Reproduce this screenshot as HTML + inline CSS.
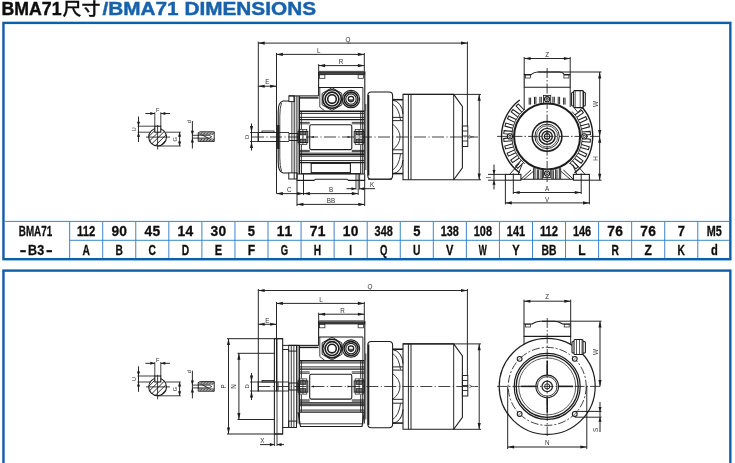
<!DOCTYPE html>
<html lang="zh"><head><meta charset="utf-8"><title>BMA71尺寸/BMA71 DIMENSIONS</title>
<style>html,body{margin:0;padding:0;background:#fff;}body{width:735px;height:463px;overflow:hidden;}svg{display:block;font-family:"Liberation Sans","Noto Sans CJK SC",sans-serif;}</style></head><body>
<svg width="735" height="463" viewBox="0 0 735 463">
<rect x="0" y="0" width="735" height="463" fill="#fff"/>
<defs><filter id="soft" x="-2%" y="-2%" width="104%" height="104%"><feGaussianBlur stdDeviation="0.35"/></filter><filter id="soft2" x="-2%" y="-20%" width="104%" height="140%"><feGaussianBlur stdDeviation="0.22"/></filter></defs>
<g filter="url(#soft2)">
<g font-weight="bold" stroke-width="0.45">
<text x="1.5" y="15.4" font-size="18.8" fill="#111" stroke="#111" textLength="60" lengthAdjust="spacingAndGlyphs">BMA71</text>
<text x="62.5" y="15" font-size="17.5" font-weight="500" fill="#111" stroke="#111" stroke-width="0.3" textLength="38" lengthAdjust="spacingAndGlyphs">尺寸</text>
<text x="102.5" y="15.4" font-size="18.8" fill="#1662ad" stroke="#1662ad" textLength="213.5" lengthAdjust="spacingAndGlyphs">/BMA71 DIMENSIONS</text>
</g>
<rect x="3.45" y="22.9" width="726.9" height="236.3" fill="none" stroke="#0f5ea8" stroke-width="2.4"/>
<rect x="3.45" y="270.6" width="726.9" height="200" fill="none" stroke="#0f5ea8" stroke-width="2.4"/>
<line x1="4.7" y1="221.4" x2="729" y2="221.4" stroke="#3d85c8" stroke-width="1"/>
<line x1="69.7" y1="240.3" x2="729" y2="240.3" stroke="#3d85c8" stroke-width="1"/>
<line x1="69.65" y1="221.4" x2="69.65" y2="258" stroke="#3d85c8" stroke-width="1"/>
<line x1="102.71" y1="221.4" x2="102.71" y2="258" stroke="#3d85c8" stroke-width="1"/>
<line x1="135.77" y1="221.4" x2="135.77" y2="258" stroke="#3d85c8" stroke-width="1"/>
<line x1="168.83" y1="221.4" x2="168.83" y2="258" stroke="#3d85c8" stroke-width="1"/>
<line x1="201.89" y1="221.4" x2="201.89" y2="258" stroke="#3d85c8" stroke-width="1"/>
<line x1="234.95" y1="221.4" x2="234.95" y2="258" stroke="#3d85c8" stroke-width="1"/>
<line x1="268.01" y1="221.4" x2="268.01" y2="258" stroke="#3d85c8" stroke-width="1"/>
<line x1="301.07" y1="221.4" x2="301.07" y2="258" stroke="#3d85c8" stroke-width="1"/>
<line x1="334.13" y1="221.4" x2="334.13" y2="258" stroke="#3d85c8" stroke-width="1"/>
<line x1="367.19" y1="221.4" x2="367.19" y2="258" stroke="#3d85c8" stroke-width="1"/>
<line x1="400.25" y1="221.4" x2="400.25" y2="258" stroke="#3d85c8" stroke-width="1"/>
<line x1="433.31" y1="221.4" x2="433.31" y2="258" stroke="#3d85c8" stroke-width="1"/>
<line x1="466.37" y1="221.4" x2="466.37" y2="258" stroke="#3d85c8" stroke-width="1"/>
<line x1="499.43" y1="221.4" x2="499.43" y2="258" stroke="#3d85c8" stroke-width="1"/>
<line x1="532.49" y1="221.4" x2="532.49" y2="258" stroke="#3d85c8" stroke-width="1"/>
<line x1="565.55" y1="221.4" x2="565.55" y2="258" stroke="#3d85c8" stroke-width="1"/>
<line x1="598.61" y1="221.4" x2="598.61" y2="258" stroke="#3d85c8" stroke-width="1"/>
<line x1="631.67" y1="221.4" x2="631.67" y2="258" stroke="#3d85c8" stroke-width="1"/>
<line x1="664.73" y1="221.4" x2="664.73" y2="258" stroke="#3d85c8" stroke-width="1"/>
<line x1="697.79" y1="221.4" x2="697.79" y2="258" stroke="#3d85c8" stroke-width="1"/>
<g font-weight="bold" font-size="13.8" fill="#111" stroke="#111" stroke-width="0.3" text-anchor="middle">
<text x="86.15" y="236.4" textLength="18.2" lengthAdjust="spacingAndGlyphs">112</text>
<text x="86.15" y="255" textLength="7.4" lengthAdjust="spacingAndGlyphs">A</text>
<text x="119.21" y="236.4" textLength="15.6" lengthAdjust="spacing">90</text>
<text x="119.21" y="255" textLength="7.4" lengthAdjust="spacingAndGlyphs">B</text>
<text x="152.27" y="236.4" textLength="15.6" lengthAdjust="spacing">45</text>
<text x="152.27" y="255" textLength="7.4" lengthAdjust="spacingAndGlyphs">C</text>
<text x="185.33" y="236.4" textLength="15.6" lengthAdjust="spacing">14</text>
<text x="185.33" y="255" textLength="7.4" lengthAdjust="spacingAndGlyphs">D</text>
<text x="218.39" y="236.4" textLength="15.6" lengthAdjust="spacing">30</text>
<text x="218.39" y="255" textLength="7.4" lengthAdjust="spacingAndGlyphs">E</text>
<text x="251.45" y="236.4" textLength="7.2" lengthAdjust="spacingAndGlyphs">5</text>
<text x="251.45" y="255" textLength="7.4" lengthAdjust="spacingAndGlyphs">F</text>
<text x="284.51" y="236.4" textLength="15.6" lengthAdjust="spacing">11</text>
<text x="284.51" y="255" textLength="7.4" lengthAdjust="spacingAndGlyphs">G</text>
<text x="317.57" y="236.4" textLength="15.6" lengthAdjust="spacing">71</text>
<text x="317.57" y="255" textLength="7.4" lengthAdjust="spacingAndGlyphs">H</text>
<text x="350.63" y="236.4" textLength="15.6" lengthAdjust="spacing">10</text>
<text x="350.63" y="255" textLength="2.8" lengthAdjust="spacingAndGlyphs">I</text>
<text x="383.69" y="236.4" textLength="18.2" lengthAdjust="spacingAndGlyphs">348</text>
<text x="383.69" y="255" textLength="7.4" lengthAdjust="spacingAndGlyphs">Q</text>
<text x="416.75" y="236.4" textLength="7.2" lengthAdjust="spacingAndGlyphs">5</text>
<text x="416.75" y="255" textLength="7.4" lengthAdjust="spacingAndGlyphs">U</text>
<text x="449.81" y="236.4" textLength="18.2" lengthAdjust="spacingAndGlyphs">138</text>
<text x="449.81" y="255" textLength="7.4" lengthAdjust="spacingAndGlyphs">V</text>
<text x="482.87" y="236.4" textLength="18.2" lengthAdjust="spacingAndGlyphs">108</text>
<text x="482.87" y="255" textLength="8" lengthAdjust="spacingAndGlyphs">W</text>
<text x="515.93" y="236.4" textLength="18.2" lengthAdjust="spacingAndGlyphs">141</text>
<text x="515.93" y="255" textLength="7.4" lengthAdjust="spacingAndGlyphs">Y</text>
<text x="548.99" y="236.4" textLength="18.2" lengthAdjust="spacingAndGlyphs">112</text>
<text x="548.99" y="255" textLength="15" lengthAdjust="spacingAndGlyphs">BB</text>
<text x="582.05" y="236.4" textLength="18.2" lengthAdjust="spacingAndGlyphs">146</text>
<text x="582.05" y="255" textLength="7.4" lengthAdjust="spacingAndGlyphs">L</text>
<text x="615.11" y="236.4" textLength="15.6" lengthAdjust="spacing">76</text>
<text x="615.11" y="255" textLength="7.4" lengthAdjust="spacingAndGlyphs">R</text>
<text x="648.17" y="236.4" textLength="15.6" lengthAdjust="spacing">76</text>
<text x="648.17" y="255" textLength="7.4" lengthAdjust="spacingAndGlyphs">Z</text>
<text x="681.23" y="236.4" textLength="7.2" lengthAdjust="spacingAndGlyphs">7</text>
<text x="681.23" y="255" textLength="7.4" lengthAdjust="spacingAndGlyphs">K</text>
<text x="714.29" y="236.4" textLength="15" lengthAdjust="spacingAndGlyphs">M5</text>
<text x="714.29" y="255" textLength="6.8" lengthAdjust="spacingAndGlyphs">d</text>
<text x="35.5" y="236.4" textLength="33.5" lengthAdjust="spacingAndGlyphs">BMA71</text>
<text x="23.1" y="254.6" textLength="6.6" lengthAdjust="spacingAndGlyphs">-</text>
<text x="36.1" y="255" textLength="16" lengthAdjust="spacingAndGlyphs">B3</text>
<text x="49.3" y="254.6" textLength="6.6" lengthAdjust="spacingAndGlyphs">-</text>
</g>
</g>
<g id="draw-top" filter="url(#soft)">
<circle cx="157.6" cy="137.1" r="8.9" fill="none" stroke="#1c1c1c" stroke-width="1.08"/>
<clipPath id="kc137"><circle cx="157.6" cy="137.1" r="8.9"/></clipPath>
<g clip-path="url(#kc137)">
<line x1="138.2" y1="147.1" x2="158.2" y2="127.1" stroke="#1c1c1c" stroke-width="0.9"/>
<line x1="143.4" y1="147.1" x2="163.4" y2="127.1" stroke="#1c1c1c" stroke-width="0.9"/>
<line x1="148.6" y1="147.1" x2="168.6" y2="127.1" stroke="#1c1c1c" stroke-width="0.9"/>
<line x1="153.8" y1="147.1" x2="173.8" y2="127.1" stroke="#1c1c1c" stroke-width="0.9"/>
<line x1="159" y1="147.1" x2="179" y2="127.1" stroke="#1c1c1c" stroke-width="0.9"/>
</g>
<rect x="154.8" y="126.2" width="6" height="6" fill="#fff" stroke="#1c1c1c" stroke-width="1.08"/>
<line x1="154.8" y1="112.3" x2="154.8" y2="126.2" stroke="#1c1c1c" stroke-width="0.84"/>
<line x1="160.8" y1="112.3" x2="160.8" y2="126.2" stroke="#1c1c1c" stroke-width="0.84"/>
<line x1="145.4" y1="113.5" x2="154.8" y2="113.5" stroke="#1c1c1c" stroke-width="0.96"/>
<line x1="160.8" y1="113.5" x2="170" y2="113.5" stroke="#1c1c1c" stroke-width="0.96"/>
<polygon points="154.8,113.5 150.3,111.95 150.3,115.05" fill="#1c1c1c"/>
<polygon points="160.8,113.5 165.3,111.95 165.3,115.05" fill="#1c1c1c"/>
<text x="157.7" y="111.8" font-size="5.6" text-anchor="middle" fill="#333" font-weight="normal">F</text>
<line x1="137.5" y1="126.2" x2="155" y2="126.2" stroke="#1c1c1c" stroke-width="0.84"/>
<line x1="137.5" y1="132.2" x2="150" y2="132.2" stroke="#1c1c1c" stroke-width="0.84"/>
<line x1="138.5" y1="116.5" x2="138.5" y2="142" stroke="#1c1c1c" stroke-width="0.96"/>
<polygon points="138.5,126.2 136.95,121.7 140.05,121.7" fill="#1c1c1c"/>
<polygon points="138.5,132.2 136.95,136.7 140.05,136.7" fill="#1c1c1c"/>
<text x="136.2" y="129.3" font-size="5.4" text-anchor="middle" fill="#333" font-weight="normal" transform="rotate(-90 136.2 129.3)">U</text>
<line x1="165.5" y1="132.2" x2="180.8" y2="132.2" stroke="#1c1c1c" stroke-width="0.84"/>
<line x1="157.6" y1="146" x2="180.8" y2="146" stroke="#1c1c1c" stroke-width="0.84"/>
<line x1="179.6" y1="132.2" x2="179.6" y2="146" stroke="#1c1c1c" stroke-width="0.96"/>
<polygon points="179.6,132.2 178.05,136.7 181.15,136.7" fill="#1c1c1c"/>
<polygon points="179.6,146 178.05,141.5 181.15,141.5" fill="#1c1c1c"/>
<text x="176.6" y="139.2" font-size="5.6" text-anchor="middle" fill="#333" font-weight="normal" transform="rotate(-90 176.6 139.2)">G</text>
<line x1="146" y1="137.1" x2="170" y2="137.1" stroke="#1c1c1c" stroke-width="0.84"/>
<line x1="157.6" y1="125" x2="157.6" y2="149.5" stroke="#1c1c1c" stroke-width="0.84"/>
<line x1="192.4" y1="121" x2="192.4" y2="148.5" stroke="#1c1c1c" stroke-width="0.96"/>
<polygon points="192.4,135.3 190.85,130.8 193.95,130.8" fill="#1c1c1c"/>
<polygon points="192.4,138.1 190.85,142.6 193.95,142.6" fill="#1c1c1c"/>
<text x="190.6" y="121.8" font-size="5.6" text-anchor="middle" fill="#333" font-weight="normal" transform="rotate(-90 190.6 121.8)">d</text>
<line x1="192.4" y1="135.3" x2="199" y2="135.3" stroke="#1c1c1c" stroke-width="0.84"/>
<line x1="192.4" y1="138.1" x2="199" y2="138.1" stroke="#1c1c1c" stroke-width="0.84"/>
<path d="M198.2,132.8 L200.2,131.8 L214.2,131.8 L214.2,141.4 Z M214.2,141.4 L198.2,141.4 L198.2,132.8" fill="none" stroke="#1c1c1c" stroke-width="0.96"/>
<rect x="199.2" y="132.4" width="14.5" height="2.2" fill="#aaa" stroke="#777" stroke-width="0.5"/>
<rect x="199.2" y="138.8" width="14.5" height="2.1" fill="#aaa" stroke="#777" stroke-width="0.5"/>
<line x1="200.2" y1="134.6" x2="202.2" y2="132.4" stroke="#1c1c1c" stroke-width="0.72"/>
<line x1="200.2" y1="140.9" x2="202.2" y2="138.8" stroke="#1c1c1c" stroke-width="0.72"/>
<line x1="203.2" y1="134.6" x2="205.2" y2="132.4" stroke="#1c1c1c" stroke-width="0.72"/>
<line x1="203.2" y1="140.9" x2="205.2" y2="138.8" stroke="#1c1c1c" stroke-width="0.72"/>
<line x1="206.2" y1="134.6" x2="208.2" y2="132.4" stroke="#1c1c1c" stroke-width="0.72"/>
<line x1="206.2" y1="140.9" x2="208.2" y2="138.8" stroke="#1c1c1c" stroke-width="0.72"/>
<line x1="209.2" y1="134.6" x2="211.2" y2="132.4" stroke="#1c1c1c" stroke-width="0.72"/>
<line x1="209.2" y1="140.9" x2="211.2" y2="138.8" stroke="#1c1c1c" stroke-width="0.72"/>
<line x1="212.2" y1="134.6" x2="214.2" y2="132.4" stroke="#1c1c1c" stroke-width="0.72"/>
<line x1="212.2" y1="140.9" x2="214.2" y2="138.8" stroke="#1c1c1c" stroke-width="0.72"/>
<path d="M198.2,135.3 L209.2,135.3 L211.7,136.7 L209.2,138.1 L198.2,138.1" fill="none" stroke="#1c1c1c" stroke-width="0.84"/>
<line x1="252" y1="137" x2="478" y2="137" stroke="#1c1c1c" stroke-width="0.82" stroke-dasharray="12 2.5 1 2.5"/>
<rect x="258.2" y="132.5" width="19.8" height="9" fill="none" stroke="#1c1c1c" stroke-width="0.96"/>
<rect x="262" y="131" width="12" height="1.5" fill="none" stroke="#1c1c1c" stroke-width="0.84"/>
<line x1="288.9" y1="95.9" x2="318.6" y2="95.9" stroke="#1c1c1c" stroke-width="1.08"/>
<line x1="299.5" y1="97.9" x2="318.6" y2="97.9" stroke="#1c1c1c" stroke-width="1.44"/>
<line x1="299.5" y1="95.9" x2="299.5" y2="174" stroke="#1c1c1c" stroke-width="1.08"/>
<line x1="364.3" y1="110.8" x2="364.3" y2="174" stroke="#1c1c1c" stroke-width="1.08"/>
<line x1="298" y1="95.9" x2="298" y2="174" stroke="#1c1c1c" stroke-width="0.84"/>
<line x1="362.6" y1="111" x2="362.6" y2="174" stroke="#1c1c1c" stroke-width="0.84"/>
<line x1="299.5" y1="111.2" x2="364.3" y2="111.2" stroke="#1c1c1c" stroke-width="1.56"/>
<line x1="299.5" y1="113.4" x2="364.3" y2="113.4" stroke="#1c1c1c" stroke-width="0.96"/>
<line x1="299.5" y1="117.4" x2="364.3" y2="117.4" stroke="#1c1c1c" stroke-width="0.96"/>
<line x1="299.5" y1="153.2" x2="364.3" y2="153.2" stroke="#1c1c1c" stroke-width="0.96"/>
<line x1="299.5" y1="156.2" x2="364.3" y2="156.2" stroke="#1c1c1c" stroke-width="0.96"/>
<line x1="299.5" y1="160.6" x2="364.3" y2="160.6" stroke="#1c1c1c" stroke-width="0.96"/>
<line x1="299.5" y1="119.6" x2="364.3" y2="119.6" stroke="#1c1c1c" stroke-width="1.32"/>
<line x1="299.5" y1="154.6" x2="364.3" y2="154.6" stroke="#1c1c1c" stroke-width="1.32"/>
<line x1="299.5" y1="122.4" x2="309.7" y2="122.4" stroke="#1c1c1c" stroke-width="0.84"/>
<line x1="351.8" y1="122.4" x2="364.3" y2="122.4" stroke="#1c1c1c" stroke-width="0.84"/>
<line x1="299.5" y1="123.8" x2="309.7" y2="123.8" stroke="#1c1c1c" stroke-width="0.84"/>
<line x1="351.8" y1="123.8" x2="364.3" y2="123.8" stroke="#1c1c1c" stroke-width="0.84"/>
<line x1="299.5" y1="150.4" x2="309.7" y2="150.4" stroke="#1c1c1c" stroke-width="0.84"/>
<line x1="351.8" y1="150.4" x2="364.3" y2="150.4" stroke="#1c1c1c" stroke-width="0.84"/>
<line x1="299.5" y1="151.6" x2="309.7" y2="151.6" stroke="#1c1c1c" stroke-width="0.84"/>
<line x1="351.8" y1="151.6" x2="364.3" y2="151.6" stroke="#1c1c1c" stroke-width="0.84"/>
<line x1="301.4" y1="111.2" x2="301.4" y2="129" stroke="#1c1c1c" stroke-width="0.84"/>
<line x1="301.4" y1="145" x2="301.4" y2="162.6" stroke="#1c1c1c" stroke-width="0.84"/>
<line x1="360.7" y1="111.2" x2="360.7" y2="129" stroke="#1c1c1c" stroke-width="0.84"/>
<line x1="360.7" y1="145" x2="360.7" y2="162.6" stroke="#1c1c1c" stroke-width="0.84"/>
<line x1="299.5" y1="162.6" x2="364.3" y2="162.6" stroke="#1c1c1c" stroke-width="1.44"/>
<rect x="309.7" y="124.7" width="42.1" height="24.9" fill="none" stroke="#1c1c1c" stroke-width="1.08" rx="1.5"/>
<polygon points="310.5,137 314,136.1 314,137.9" fill="#1c1c1c"/>
<polygon points="351,137 347.5,136.1 347.5,137.9" fill="#1c1c1c"/>
<rect x="298" y="131.4" width="9.8" height="11.2" fill="none" stroke="#1c1c1c" stroke-width="0.96"/>
<rect x="300" y="131.4" width="5.8" height="3.4" fill="#777" stroke="#1c1c1c" stroke-width="0.84"/>
<rect x="300" y="139.2" width="5.8" height="3.4" fill="#777" stroke="#1c1c1c" stroke-width="0.84"/>
<line x1="302.9" y1="129.5" x2="302.9" y2="144.5" stroke="#1c1c1c" stroke-width="0.72"/>
<rect x="299" y="129.4" width="7.8" height="15.2" fill="none" stroke="#1c1c1c" stroke-width="0.72"/>
<rect x="354.2" y="131.4" width="10.1" height="11.2" fill="none" stroke="#1c1c1c" stroke-width="0.96"/>
<rect x="356.2" y="131.4" width="6.1" height="3.4" fill="#777" stroke="#1c1c1c" stroke-width="0.84"/>
<rect x="356.2" y="139.2" width="6.1" height="3.4" fill="#777" stroke="#1c1c1c" stroke-width="0.84"/>
<line x1="359.1" y1="129.5" x2="359.1" y2="144.5" stroke="#1c1c1c" stroke-width="0.72"/>
<rect x="355.2" y="129.4" width="8.1" height="15.2" fill="none" stroke="#1c1c1c" stroke-width="0.72"/>
<rect x="289" y="133.5" width="9" height="7" fill="none" stroke="#1c1c1c" stroke-width="0.96"/>
<line x1="278" y1="132.5" x2="289" y2="132.5" stroke="#1c1c1c" stroke-width="0.84"/>
<line x1="278" y1="141.5" x2="289" y2="141.5" stroke="#1c1c1c" stroke-width="0.84"/>
<line x1="318.6" y1="71.4" x2="364.8" y2="71.4" stroke="#1c1c1c" stroke-width="0.84"/>
<rect x="318.6" y="72.4" width="46.2" height="2.1" fill="#444" stroke="#1c1c1c" stroke-width="0.72"/>
<line x1="318.6" y1="71.2" x2="318.6" y2="95.9" stroke="#1c1c1c" stroke-width="1.08"/>
<line x1="364.8" y1="71.2" x2="364.8" y2="111" stroke="#1c1c1c" stroke-width="1.08"/>
<line x1="362.9" y1="87.5" x2="362.9" y2="111" stroke="#1c1c1c" stroke-width="0.84"/>
<rect x="319.6" y="74.8" width="5.3" height="3.5" fill="none" stroke="#1c1c1c" stroke-width="0.72"/>
<rect x="358.1" y="74.8" width="5.3" height="3.5" fill="none" stroke="#1c1c1c" stroke-width="0.72"/>
<line x1="318.6" y1="87.5" x2="362.9" y2="87.5" stroke="#1c1c1c" stroke-width="1.08"/>
<line x1="319.8" y1="87.5" x2="319.8" y2="107" stroke="#1c1c1c" stroke-width="0.84"/>
<line x1="319.8" y1="107" x2="324.6" y2="110.8" stroke="#1c1c1c" stroke-width="0.84"/>
<polygon points="332,87.7 322.13,93.4 322.13,104.8 332,110.5 341.87,104.8 341.87,93.4" fill="#fff" stroke="#1c1c1c" stroke-width="0.9"/>
<circle cx="332" cy="99.1" r="9.3" fill="none" stroke="#1c1c1c" stroke-width="1.56"/>
<circle cx="332" cy="99.1" r="6.9" fill="none" stroke="#1c1c1c" stroke-width="1.68"/>
<circle cx="332" cy="99.1" r="4.3" fill="none" stroke="#1c1c1c" stroke-width="1.56"/>
<circle cx="351" cy="99.1" r="8.7" fill="#fff" stroke="#1c1c1c" stroke-width="1.08"/>
<circle cx="351" cy="99.1" r="7" fill="none" stroke="#1c1c1c" stroke-width="1.56"/>
<circle cx="351" cy="99.1" r="5.2" fill="none" stroke="#1c1c1c" stroke-width="1.08"/>
<circle cx="351" cy="99.1" r="2.7" fill="none" stroke="#1c1c1c" stroke-width="1.2"/>
<path d="M348.4,99.7 A2.7,2.7 0 0 0 353.6,99.7 Z" fill="#555" stroke="#1c1c1c" stroke-width="0.48"/>
<rect x="367.8" y="92" width="24.8" height="87.2" fill="none" stroke="#1c1c1c" stroke-width="1.08" rx="3.5"/>
<line x1="368.6" y1="95" x2="368.6" y2="175.5" stroke="#1c1c1c" stroke-width="1.44"/>
<line x1="365.8" y1="104" x2="365.8" y2="170" stroke="#1c1c1c" stroke-width="0.84"/>
<path d="M392.6,100 Q402,102 403,114" fill="none" stroke="#1c1c1c" stroke-width="0.96"/>
<path d="M392.6,174 Q402,172 403,160" fill="none" stroke="#1c1c1c" stroke-width="0.96"/>
<path d="M392.6,104 Q399,108 400.5,120" fill="none" stroke="#1c1c1c" stroke-width="0.84"/>
<path d="M392.6,170 Q399,166 400.5,154" fill="none" stroke="#1c1c1c" stroke-width="0.84"/>
<line x1="392.6" y1="117.4" x2="403" y2="117.4" stroke="#1c1c1c" stroke-width="0.96"/>
<line x1="392.6" y1="120.6" x2="403" y2="120.6" stroke="#1c1c1c" stroke-width="0.96"/>
<line x1="392.6" y1="149.8" x2="403" y2="149.8" stroke="#1c1c1c" stroke-width="0.96"/>
<line x1="392.6" y1="153.7" x2="403" y2="153.7" stroke="#1c1c1c" stroke-width="0.96"/>
<line x1="392.6" y1="99.7" x2="403" y2="99.7" stroke="#1c1c1c" stroke-width="1.56"/>
<line x1="392.6" y1="173.6" x2="403" y2="173.6" stroke="#1c1c1c" stroke-width="1.56"/>
<path d="M392.6,124 Q400,130 400,137" fill="none" stroke="#1c1c1c" stroke-width="0.84"/>
<path d="M392.6,150 Q400,144 400,137" fill="none" stroke="#1c1c1c" stroke-width="0.84"/>
<path d="M403,94.4 L453.7,94.4 L462.4,106.4 L462.4,167.8 L453.7,179.8 L403,179.8 Z" fill="none" stroke="#1c1c1c" stroke-width="1.08"/>
<line x1="408.4" y1="94.4" x2="408.4" y2="179.8" stroke="#1c1c1c" stroke-width="0.96"/>
<line x1="411" y1="94.4" x2="411" y2="179.8" stroke="#1c1c1c" stroke-width="0.96"/>
<line x1="453.7" y1="94.4" x2="453.7" y2="179.8" stroke="#1c1c1c" stroke-width="0.96"/>
<rect x="462.4" y="126" width="5.4" height="20.5" fill="none" stroke="#1c1c1c" stroke-width="0.96"/>
<line x1="462.4" y1="131" x2="467.8" y2="131" stroke="#1c1c1c" stroke-width="0.84"/>
<line x1="462.4" y1="136" x2="467.8" y2="136" stroke="#1c1c1c" stroke-width="0.84"/>
<line x1="462.4" y1="141" x2="467.8" y2="141" stroke="#1c1c1c" stroke-width="0.84"/>
<line x1="403" y1="94.4" x2="481" y2="94.4" stroke="#1c1c1c" stroke-width="0.96"/>
<line x1="453.7" y1="179.8" x2="481" y2="179.8" stroke="#1c1c1c" stroke-width="0.96"/>
<line x1="479.2" y1="94.4" x2="479.2" y2="179.8" stroke="#1c1c1c" stroke-width="0.96"/>
<polygon points="479.2,94.4 477.65,100.8 480.75,100.8" fill="#1c1c1c"/>
<polygon points="479.2,179.8 477.65,173.4 480.75,173.4" fill="#1c1c1c"/>
<text x="474.4" y="137" font-size="6.3" text-anchor="middle" fill="#333" font-weight="normal" transform="rotate(-90 474.4 137)">Y</text>
<line x1="258.3" y1="41.6" x2="258.3" y2="142" stroke="#1c1c1c" stroke-width="0.96"/>
<line x1="467.4" y1="41.6" x2="467.4" y2="126" stroke="#1c1c1c" stroke-width="0.96"/>
<line x1="258.3" y1="43.1" x2="467.4" y2="43.1" stroke="#1c1c1c" stroke-width="0.96"/>
<polygon points="258.3,43.1 264.7,41.55 264.7,44.65" fill="#1c1c1c"/>
<polygon points="467.4,43.1 461,41.55 461,44.65" fill="#1c1c1c"/>
<text x="348" y="41.5" font-size="6.3" text-anchor="middle" fill="#333" font-weight="normal">Q</text>
<line x1="276.5" y1="52.9" x2="276.5" y2="193.5" stroke="#1c1c1c" stroke-width="0.96"/>
<line x1="364.3" y1="52.9" x2="364.3" y2="71" stroke="#1c1c1c" stroke-width="0.96"/>
<line x1="276.5" y1="54.4" x2="364.3" y2="54.4" stroke="#1c1c1c" stroke-width="0.96"/>
<polygon points="276.5,54.4 282.9,52.85 282.9,55.95" fill="#1c1c1c"/>
<polygon points="364.3,54.4 357.9,52.85 357.9,55.95" fill="#1c1c1c"/>
<text x="318.8" y="52.8" font-size="6.3" text-anchor="middle" fill="#333" font-weight="normal">L</text>
<line x1="318.7" y1="64.1" x2="318.7" y2="71" stroke="#1c1c1c" stroke-width="0.96"/>
<line x1="318.7" y1="65.6" x2="364.3" y2="65.6" stroke="#1c1c1c" stroke-width="0.96"/>
<polygon points="318.7,65.6 325.1,64.05 325.1,67.15" fill="#1c1c1c"/>
<polygon points="364.3,65.6 357.9,64.05 357.9,67.15" fill="#1c1c1c"/>
<text x="341" y="64" font-size="6.3" text-anchor="middle" fill="#333" font-weight="normal">R</text>
<line x1="258.3" y1="86.2" x2="276.5" y2="86.2" stroke="#1c1c1c" stroke-width="0.96"/>
<polygon points="258.3,86.2 264.7,84.65 264.7,87.75" fill="#1c1c1c"/>
<polygon points="276.5,86.2 270.1,84.65 270.1,87.75" fill="#1c1c1c"/>
<text x="267.4" y="84.4" font-size="6.3" text-anchor="middle" fill="#333" font-weight="normal">E</text>
<line x1="250" y1="132.5" x2="258.3" y2="132.5" stroke="#1c1c1c" stroke-width="0.84"/>
<line x1="250" y1="141.5" x2="258.3" y2="141.5" stroke="#1c1c1c" stroke-width="0.84"/>
<line x1="251.5" y1="123.5" x2="251.5" y2="150.5" stroke="#1c1c1c" stroke-width="0.96"/>
<polygon points="251.5,132.5 249.95,126.1 253.05,126.1" fill="#1c1c1c"/>
<polygon points="251.5,141.5 249.95,147.9 253.05,147.9" fill="#1c1c1c"/>
<text x="249.4" y="137" font-size="5.8" text-anchor="middle" fill="#333" font-weight="normal" transform="rotate(-90 249.4 137)">D</text>
<path d="M289,101 L283,101 Q278.2,102 278.2,112 L278.2,162 Q278.2,172 283,173 L289,173" fill="none" stroke="#1c1c1c" stroke-width="1.08"/>
<path d="M281.5,103 Q279.8,108 279.8,116 L279.8,158 Q279.8,166 281.5,171" fill="none" stroke="#1c1c1c" stroke-width="0.84"/>
<line x1="278.3" y1="125" x2="278.3" y2="149" stroke="#1c1c1c" stroke-width="2.28"/>
<rect x="288.9" y="95.9" width="5.3" height="5.7" fill="none" stroke="#1c1c1c" stroke-width="0.96"/>
<line x1="291.9" y1="101.6" x2="291.9" y2="173" stroke="#1c1c1c" stroke-width="0.84"/>
<line x1="294.2" y1="95.9" x2="294.2" y2="179" stroke="#1c1c1c" stroke-width="0.96"/>
<line x1="296.3" y1="95.9" x2="296.3" y2="174" stroke="#1c1c1c" stroke-width="0.72"/>
<rect x="288.8" y="172.9" width="8.2" height="6.1" fill="none" stroke="#1c1c1c" stroke-width="0.96"/>
<path d="M297,174.3 L297,180.4 L314,180.4 L315.5,179.2 L347,179.2 L348.5,180.4 L364.7,180.4 L364.7,174.3" fill="none" stroke="#1c1c1c" stroke-width="1.08"/>
<line x1="297" y1="174" x2="364.7" y2="174" stroke="#1c1c1c" stroke-width="1.2"/>
<rect x="301.4" y="162.6" width="59.3" height="11" fill="none" stroke="#1c1c1c" stroke-width="0.96"/>
<rect x="311.2" y="163.4" width="39.2" height="9.2" fill="none" stroke="#1c1c1c" stroke-width="1.08"/>
<line x1="356" y1="173.7" x2="356" y2="189.5" stroke="#1c1c1c" stroke-width="0.84"/>
<line x1="358.2" y1="173.7" x2="358.2" y2="189.5" stroke="#1c1c1c" stroke-width="0.84"/>
<line x1="359.6" y1="173.7" x2="359.6" y2="189.5" stroke="#1c1c1c" stroke-width="0.84"/>
<line x1="303.5" y1="174" x2="303.5" y2="195" stroke="#1c1c1c" stroke-width="0.96"/>
<line x1="358.2" y1="189" x2="358.2" y2="195" stroke="#1c1c1c" stroke-width="0.84"/>
<line x1="276.5" y1="193.6" x2="303.5" y2="193.6" stroke="#1c1c1c" stroke-width="0.96"/>
<polygon points="276.5,193.6 282.9,192.05 282.9,195.15" fill="#1c1c1c"/>
<polygon points="303.5,193.6 297.1,192.05 297.1,195.15" fill="#1c1c1c"/>
<line x1="303.5" y1="193.6" x2="358.2" y2="193.6" stroke="#1c1c1c" stroke-width="0.96"/>
<polygon points="303.5,193.6 309.9,192.05 309.9,195.15" fill="#1c1c1c"/>
<polygon points="358.2,193.6 351.8,192.05 351.8,195.15" fill="#1c1c1c"/>
<text x="289.2" y="191.6" font-size="6.3" text-anchor="middle" fill="#333" font-weight="normal">C</text>
<text x="331" y="191.6" font-size="6.3" text-anchor="middle" fill="#333" font-weight="normal">B</text>
<line x1="297" y1="180.4" x2="297" y2="206" stroke="#1c1c1c" stroke-width="0.96"/>
<line x1="364.7" y1="180.4" x2="364.7" y2="206" stroke="#1c1c1c" stroke-width="0.96"/>
<line x1="297" y1="204.4" x2="364.7" y2="204.4" stroke="#1c1c1c" stroke-width="0.96"/>
<polygon points="297,204.4 303.4,202.85 303.4,205.95" fill="#1c1c1c"/>
<polygon points="364.7,204.4 358.3,202.85 358.3,205.95" fill="#1c1c1c"/>
<text x="331" y="202.6" font-size="6.3" text-anchor="middle" fill="#333" font-weight="normal">BB</text>
<line x1="346.5" y1="188.7" x2="356" y2="188.7" stroke="#1c1c1c" stroke-width="0.96"/>
<line x1="359.6" y1="188.7" x2="375" y2="188.7" stroke="#1c1c1c" stroke-width="0.96"/>
<polygon points="356,188.7 351.5,187.15 351.5,190.25" fill="#1c1c1c"/>
<polygon points="359.6,188.7 364.1,187.15 364.1,190.25" fill="#1c1c1c"/>
<text x="372" y="187.4" font-size="6.3" text-anchor="middle" fill="#333" font-weight="normal">K</text>
<line x1="368" y1="179.2" x2="392" y2="179.2" stroke="#1c1c1c" stroke-width="0.96"/>
<line x1="497" y1="136.4" x2="602" y2="136.4" stroke="#1c1c1c" stroke-width="0.84" stroke-dasharray="10 2 1.5 2"/>
<line x1="547.1" y1="68" x2="547.1" y2="182" stroke="#1c1c1c" stroke-width="0.84" stroke-dasharray="10 2 1.5 2"/>
<circle cx="547.1" cy="136.4" r="33" fill="none" stroke="#1c1c1c" stroke-width="2.04"/>
<path d="M519.66,99.98 A45.6,45.6 0 0 0 519.66,172.82" fill="none" stroke="#1c1c1c" stroke-width="1.44"/>
<path d="M524.88,108.97 A35.3,35.3 0 0 0 524.88,163.83" fill="none" stroke="#1c1c1c" stroke-width="0.84"/>
<path d="M523.94,109.76 L518.29,103.95 L516.09,106.03 L521.62,111.97" fill="none" stroke="#1c1c1c" stroke-width="1.02"/>
<path d="M519.59,114.28 L512.99,109.56 L511.2,112.01 L517.7,116.87" fill="none" stroke="#1c1c1c" stroke-width="1.02"/>
<path d="M516.11,119.5 L508.78,116.02 L507.45,118.75 L514.7,122.38" fill="none" stroke="#1c1c1c" stroke-width="1.02"/>
<path d="M513.6,125.26 L505.78,123.13 L504.95,126.05 L512.73,128.34" fill="none" stroke="#1c1c1c" stroke-width="1.02"/>
<path d="M512.16,131.37 L504.08,130.66 L503.79,133.67 L511.85,134.55" fill="none" stroke="#1c1c1c" stroke-width="1.02"/>
<path d="M511.82,137.63 L503.74,138.37 L503.99,141.39 L512.08,140.82" fill="none" stroke="#1c1c1c" stroke-width="1.02"/>
<path d="M512.6,143.86 L504.78,146.02 L505.55,148.94 L513.42,146.96" fill="none" stroke="#1c1c1c" stroke-width="1.02"/>
<path d="M514.46,149.85 L507.15,153.36 L508.43,156.1 L515.82,152.75" fill="none" stroke="#1c1c1c" stroke-width="1.02"/>
<path d="M517.36,155.42 L510.78,160.16 L512.53,162.64 L519.21,158.04" fill="none" stroke="#1c1c1c" stroke-width="1.02"/>
<path d="M521.2,160.38 L515.57,166.22 L517.72,168.35 L523.48,162.63" fill="none" stroke="#1c1c1c" stroke-width="1.02"/>
<path d="M574.54,172.82 A45.6,45.6 0 0 0 578.2,103.05" fill="none" stroke="#1c1c1c" stroke-width="1.44"/>
<path d="M569.32,163.83 A35.3,35.3 0 0 0 572.06,111.44" fill="none" stroke="#1c1c1c" stroke-width="0.84"/>
<path d="M570.26,163.04 L575.91,168.85 L578.11,166.77 L572.58,160.83" fill="none" stroke="#1c1c1c" stroke-width="1.02"/>
<path d="M574.61,158.52 L581.21,163.24 L583,160.79 L576.5,155.93" fill="none" stroke="#1c1c1c" stroke-width="1.02"/>
<path d="M578.09,153.3 L585.42,156.78 L586.75,154.05 L579.5,150.42" fill="none" stroke="#1c1c1c" stroke-width="1.02"/>
<path d="M580.6,147.54 L588.42,149.67 L589.25,146.75 L581.47,144.46" fill="none" stroke="#1c1c1c" stroke-width="1.02"/>
<path d="M582.04,141.43 L590.12,142.14 L590.41,139.13 L582.35,138.25" fill="none" stroke="#1c1c1c" stroke-width="1.02"/>
<path d="M582.38,135.17 L590.46,134.43 L590.21,131.41 L582.12,131.98" fill="none" stroke="#1c1c1c" stroke-width="1.02"/>
<path d="M581.6,128.94 L589.42,126.78 L588.65,123.86 L580.78,125.84" fill="none" stroke="#1c1c1c" stroke-width="1.02"/>
<path d="M579.74,122.95 L587.05,119.44 L585.77,116.7 L578.38,120.05" fill="none" stroke="#1c1c1c" stroke-width="1.02"/>
<path d="M576.84,117.38 L583.42,112.64 L581.67,110.16 L574.99,114.76" fill="none" stroke="#1c1c1c" stroke-width="1.02"/>
<circle cx="584.3" cy="136.4" r="2.6" fill="#fff" stroke="#1c1c1c" stroke-width="1.08"/>
<circle cx="584.3" cy="136.4" r="1.1" fill="none" stroke="#1c1c1c" stroke-width="0.96"/>
<rect x="543.5" y="95.4" width="7.2" height="7.6" fill="#fff" stroke="#1c1c1c" stroke-width="0.84"/>
<circle cx="547.1" cy="99.2" r="2.6" fill="#fff" stroke="#1c1c1c" stroke-width="1.08"/>
<circle cx="547.1" cy="99.2" r="1.1" fill="none" stroke="#1c1c1c" stroke-width="0.96"/>
<circle cx="509.9" cy="136.4" r="2.6" fill="#fff" stroke="#1c1c1c" stroke-width="1.08"/>
<circle cx="509.9" cy="136.4" r="1.1" fill="none" stroke="#1c1c1c" stroke-width="0.96"/>
<rect x="543.5" y="169.8" width="7.2" height="7.6" fill="#fff" stroke="#1c1c1c" stroke-width="0.84"/>
<circle cx="547.1" cy="173.6" r="2.6" fill="#fff" stroke="#1c1c1c" stroke-width="1.08"/>
<circle cx="547.1" cy="173.6" r="1.1" fill="none" stroke="#1c1c1c" stroke-width="0.96"/>
<circle cx="547.1" cy="136.4" r="14.8" fill="none" stroke="#1c1c1c" stroke-width="1.56"/>
<circle cx="547.1" cy="136.4" r="12.2" fill="none" stroke="#1c1c1c" stroke-width="0.96"/>
<circle cx="547.1" cy="136.4" r="10.6" fill="none" stroke="#1c1c1c" stroke-width="0.72"/>
<circle cx="547.1" cy="136.4" r="8" fill="none" stroke="#1c1c1c" stroke-width="1.44"/>
<circle cx="547.1" cy="136.4" r="5.2" fill="none" stroke="#1c1c1c" stroke-width="1.32"/>
<circle cx="547.1" cy="136.4" r="2.7" fill="none" stroke="#1c1c1c" stroke-width="1.08"/>
<rect x="546.1" y="132" width="2" height="2" fill="none" stroke="#1c1c1c" stroke-width="0.72"/>
<line x1="529.2" y1="97.6" x2="529.2" y2="104.6" stroke="#1c1c1c" stroke-width="0.96"/>
<line x1="530.6" y1="97.6" x2="530.6" y2="104.6" stroke="#1c1c1c" stroke-width="0.96"/>
<line x1="534.5" y1="96.8" x2="534.5" y2="104.34" stroke="#1c1c1c" stroke-width="0.96"/>
<line x1="535.9" y1="96.8" x2="535.9" y2="104.34" stroke="#1c1c1c" stroke-width="0.96"/>
<line x1="539.9" y1="96.8" x2="539.9" y2="102.82" stroke="#1c1c1c" stroke-width="0.96"/>
<line x1="541.3" y1="96.8" x2="541.3" y2="102.82" stroke="#1c1c1c" stroke-width="0.96"/>
<line x1="552.9" y1="96.8" x2="552.9" y2="102.82" stroke="#1c1c1c" stroke-width="0.96"/>
<line x1="554.3" y1="96.8" x2="554.3" y2="102.82" stroke="#1c1c1c" stroke-width="0.96"/>
<line x1="558.2" y1="96.8" x2="558.2" y2="104.3" stroke="#1c1c1c" stroke-width="0.96"/>
<line x1="559.6" y1="96.8" x2="559.6" y2="104.3" stroke="#1c1c1c" stroke-width="0.96"/>
<line x1="563.6" y1="97.6" x2="563.6" y2="104.6" stroke="#1c1c1c" stroke-width="0.96"/>
<line x1="565" y1="97.6" x2="565" y2="104.6" stroke="#1c1c1c" stroke-width="0.96"/>
<path d="M524.2,87.3 L524.2,74.6 L531,74.6 Q534.2,72 537.6,72 L559.6,72 Q562.7,72 564.3,74.6 L570.2,74.6 L570.2,87.3 Z" fill="none" stroke="#1c1c1c" stroke-width="1.08"/>
<rect x="525.5" y="74.9" width="5" height="3.1" fill="none" stroke="#1c1c1c" stroke-width="0.72"/>
<rect x="563.9" y="74.9" width="5" height="3.1" fill="none" stroke="#1c1c1c" stroke-width="0.72"/>
<line x1="524.2" y1="87.3" x2="524.2" y2="110" stroke="#1c1c1c" stroke-width="0.96"/>
<line x1="570.2" y1="87.3" x2="570.2" y2="107" stroke="#1c1c1c" stroke-width="0.96"/>
<rect x="571.6" y="92.3" width="13.7" height="13.7" fill="#fff" stroke="#1c1c1c" stroke-width="1.08" rx="1"/>
<rect x="573.6" y="90.6" width="9.8" height="17" fill="#fff" stroke="#1c1c1c" stroke-width="1.08" rx="1"/>
<line x1="575.2" y1="90.6" x2="575.2" y2="107.6" stroke="#1c1c1c" stroke-width="0.72"/>
<line x1="580.2" y1="90.6" x2="580.2" y2="107.6" stroke="#1c1c1c" stroke-width="0.72"/>
<line x1="583" y1="90.6" x2="583" y2="107.6" stroke="#1c1c1c" stroke-width="0.72"/>
<line x1="574" y1="107.6" x2="578" y2="112.5" stroke="#1c1c1c" stroke-width="0.84"/>
<line x1="578" y1="112.5" x2="582" y2="107.6" stroke="#1c1c1c" stroke-width="0.84"/>
<line x1="582" y1="107.6" x2="585.5" y2="112" stroke="#1c1c1c" stroke-width="0.84"/>
<rect x="505.4" y="174.4" width="15.5" height="5.8" fill="none" stroke="#1c1c1c" stroke-width="1.08"/>
<rect x="573.4" y="174.4" width="16" height="5.8" fill="none" stroke="#1c1c1c" stroke-width="1.08"/>
<line x1="509.7" y1="174.4" x2="519.4" y2="163.4" stroke="#1c1c1c" stroke-width="0.96"/>
<line x1="518.1" y1="174.4" x2="522" y2="164.7" stroke="#1c1c1c" stroke-width="0.96"/>
<line x1="585.1" y1="174.4" x2="575.4" y2="163.4" stroke="#1c1c1c" stroke-width="0.96"/>
<line x1="576.7" y1="174.4" x2="572.8" y2="164.7" stroke="#1c1c1c" stroke-width="0.96"/>
<line x1="520.9" y1="179.3" x2="531" y2="169.9" stroke="#1c1c1c" stroke-width="0.96"/>
<line x1="573.4" y1="179.3" x2="563.3" y2="169.9" stroke="#1c1c1c" stroke-width="0.96"/>
<line x1="524" y1="179.3" x2="533.5" y2="171.2" stroke="#1c1c1c" stroke-width="0.84"/>
<line x1="570.3" y1="179.3" x2="560.8" y2="171.2" stroke="#1c1c1c" stroke-width="0.84"/>
<line x1="520.9" y1="179.3" x2="573.4" y2="179.3" stroke="#1c1c1c" stroke-width="1.08"/>
<line x1="533.6" y1="168.11" x2="533.6" y2="179" stroke="#1c1c1c" stroke-width="0.96"/>
<line x1="535" y1="168.11" x2="535" y2="179" stroke="#1c1c1c" stroke-width="0.96"/>
<line x1="537.3" y1="169.37" x2="537.3" y2="179" stroke="#1c1c1c" stroke-width="0.96"/>
<line x1="538.7" y1="169.37" x2="538.7" y2="179" stroke="#1c1c1c" stroke-width="0.96"/>
<line x1="541" y1="170.17" x2="541" y2="179" stroke="#1c1c1c" stroke-width="0.96"/>
<line x1="542.4" y1="170.17" x2="542.4" y2="179" stroke="#1c1c1c" stroke-width="0.96"/>
<line x1="551.9" y1="170.15" x2="551.9" y2="179" stroke="#1c1c1c" stroke-width="0.96"/>
<line x1="553.3" y1="170.15" x2="553.3" y2="179" stroke="#1c1c1c" stroke-width="0.96"/>
<line x1="555.6" y1="169.34" x2="555.6" y2="179" stroke="#1c1c1c" stroke-width="0.96"/>
<line x1="557" y1="169.34" x2="557" y2="179" stroke="#1c1c1c" stroke-width="0.96"/>
<line x1="559.3" y1="168.07" x2="559.3" y2="179" stroke="#1c1c1c" stroke-width="0.96"/>
<line x1="560.7" y1="168.07" x2="560.7" y2="179" stroke="#1c1c1c" stroke-width="0.96"/>
<line x1="538.2" y1="72" x2="601.5" y2="72" stroke="#1c1c1c" stroke-width="0.96"/>
<line x1="524.2" y1="57" x2="524.2" y2="74.6" stroke="#1c1c1c" stroke-width="0.96"/>
<line x1="570.2" y1="57" x2="570.2" y2="74.6" stroke="#1c1c1c" stroke-width="0.96"/>
<line x1="524.2" y1="58.5" x2="570.2" y2="58.5" stroke="#1c1c1c" stroke-width="0.96"/>
<polygon points="524.2,58.5 530.6,56.95 530.6,60.05" fill="#1c1c1c"/>
<polygon points="570.2,58.5 563.8,56.95 563.8,60.05" fill="#1c1c1c"/>
<text x="547.3" y="56.6" font-size="6.3" text-anchor="middle" fill="#333" font-weight="normal">Z</text>
<line x1="599.7" y1="72" x2="599.7" y2="180.2" stroke="#1c1c1c" stroke-width="0.96"/>
<polygon points="599.7,72 598.15,78.4 601.25,78.4" fill="#1c1c1c"/>
<polygon points="599.7,136.4 598.15,130 601.25,130" fill="#1c1c1c"/>
<polygon points="599.7,136.4 598.15,142.8 601.25,142.8" fill="#1c1c1c"/>
<polygon points="599.7,180.2 598.15,173.8 601.25,173.8" fill="#1c1c1c"/>
<line x1="589.4" y1="180.2" x2="601.5" y2="180.2" stroke="#1c1c1c" stroke-width="0.96"/>
<text x="597.8" y="104" font-size="6.3" text-anchor="middle" fill="#333" font-weight="normal" transform="rotate(-90 597.8 104)">W</text>
<text x="597.8" y="158.4" font-size="6.3" text-anchor="middle" fill="#333" font-weight="normal" transform="rotate(-90 597.8 158.4)">H</text>
<line x1="488" y1="174.4" x2="505.4" y2="174.4" stroke="#1c1c1c" stroke-width="0.96"/>
<line x1="488" y1="180.2" x2="505.4" y2="180.2" stroke="#1c1c1c" stroke-width="0.96"/>
<line x1="494" y1="164.5" x2="494" y2="189.5" stroke="#1c1c1c" stroke-width="0.96"/>
<polygon points="494,174.4 492.45,169.9 495.55,169.9" fill="#1c1c1c"/>
<polygon points="494,180.2 492.45,184.7 495.55,184.7" fill="#1c1c1c"/>
<text x="491.2" y="177.4" font-size="6.3" text-anchor="middle" fill="#333" font-weight="normal" transform="rotate(-90 491.2 177.4)">I</text>
<line x1="513.3" y1="173.5" x2="513.3" y2="194" stroke="#1c1c1c" stroke-width="0.96"/>
<line x1="581.2" y1="173.5" x2="581.2" y2="194" stroke="#1c1c1c" stroke-width="0.96"/>
<line x1="513.3" y1="192.5" x2="581.2" y2="192.5" stroke="#1c1c1c" stroke-width="0.96"/>
<polygon points="513.3,192.5 519.7,190.95 519.7,194.05" fill="#1c1c1c"/>
<polygon points="581.2,192.5 574.8,190.95 574.8,194.05" fill="#1c1c1c"/>
<text x="547.2" y="191" font-size="6.3" text-anchor="middle" fill="#333" font-weight="normal">A</text>
<line x1="505.4" y1="180.2" x2="505.4" y2="204.4" stroke="#1c1c1c" stroke-width="0.96"/>
<line x1="589.4" y1="180.2" x2="589.4" y2="204.4" stroke="#1c1c1c" stroke-width="0.96"/>
<line x1="505.4" y1="202.9" x2="589.4" y2="202.9" stroke="#1c1c1c" stroke-width="0.96"/>
<polygon points="505.4,202.9 511.8,201.35 511.8,204.45" fill="#1c1c1c"/>
<polygon points="589.4,202.9 583,201.35 583,204.45" fill="#1c1c1c"/>
<text x="547.2" y="201.6" font-size="6.3" text-anchor="middle" fill="#333" font-weight="normal">V</text>
</g><g id="draw-bottom" filter="url(#soft)">
<circle cx="157.6" cy="386.9" r="8.9" fill="none" stroke="#1c1c1c" stroke-width="1.08"/>
<clipPath id="kc386"><circle cx="157.6" cy="386.9" r="8.9"/></clipPath>
<g clip-path="url(#kc386)">
<line x1="138.2" y1="396.9" x2="158.2" y2="376.9" stroke="#1c1c1c" stroke-width="0.9"/>
<line x1="143.4" y1="396.9" x2="163.4" y2="376.9" stroke="#1c1c1c" stroke-width="0.9"/>
<line x1="148.6" y1="396.9" x2="168.6" y2="376.9" stroke="#1c1c1c" stroke-width="0.9"/>
<line x1="153.8" y1="396.9" x2="173.8" y2="376.9" stroke="#1c1c1c" stroke-width="0.9"/>
<line x1="159" y1="396.9" x2="179" y2="376.9" stroke="#1c1c1c" stroke-width="0.9"/>
</g>
<rect x="154.8" y="376" width="6" height="6" fill="#fff" stroke="#1c1c1c" stroke-width="1.08"/>
<line x1="154.8" y1="362.1" x2="154.8" y2="376" stroke="#1c1c1c" stroke-width="0.84"/>
<line x1="160.8" y1="362.1" x2="160.8" y2="376" stroke="#1c1c1c" stroke-width="0.84"/>
<line x1="145.4" y1="363.3" x2="154.8" y2="363.3" stroke="#1c1c1c" stroke-width="0.96"/>
<line x1="160.8" y1="363.3" x2="170" y2="363.3" stroke="#1c1c1c" stroke-width="0.96"/>
<polygon points="154.8,363.3 150.3,361.75 150.3,364.85" fill="#1c1c1c"/>
<polygon points="160.8,363.3 165.3,361.75 165.3,364.85" fill="#1c1c1c"/>
<text x="157.7" y="361.6" font-size="5.6" text-anchor="middle" fill="#333" font-weight="normal">F</text>
<line x1="137.5" y1="376" x2="155" y2="376" stroke="#1c1c1c" stroke-width="0.84"/>
<line x1="137.5" y1="382" x2="150" y2="382" stroke="#1c1c1c" stroke-width="0.84"/>
<line x1="138.5" y1="366.3" x2="138.5" y2="391.8" stroke="#1c1c1c" stroke-width="0.96"/>
<polygon points="138.5,376 136.95,371.5 140.05,371.5" fill="#1c1c1c"/>
<polygon points="138.5,382 136.95,386.5 140.05,386.5" fill="#1c1c1c"/>
<text x="136.2" y="379.1" font-size="5.4" text-anchor="middle" fill="#333" font-weight="normal" transform="rotate(-90 136.2 379.1)">U</text>
<line x1="165.5" y1="382" x2="180.8" y2="382" stroke="#1c1c1c" stroke-width="0.84"/>
<line x1="157.6" y1="395.8" x2="180.8" y2="395.8" stroke="#1c1c1c" stroke-width="0.84"/>
<line x1="179.6" y1="382" x2="179.6" y2="395.8" stroke="#1c1c1c" stroke-width="0.96"/>
<polygon points="179.6,382 178.05,386.5 181.15,386.5" fill="#1c1c1c"/>
<polygon points="179.6,395.8 178.05,391.3 181.15,391.3" fill="#1c1c1c"/>
<text x="176.6" y="389" font-size="5.6" text-anchor="middle" fill="#333" font-weight="normal" transform="rotate(-90 176.6 389)">G</text>
<line x1="146" y1="386.9" x2="170" y2="386.9" stroke="#1c1c1c" stroke-width="0.84"/>
<line x1="157.6" y1="374.8" x2="157.6" y2="399.3" stroke="#1c1c1c" stroke-width="0.84"/>
<line x1="192.4" y1="370.8" x2="192.4" y2="398.3" stroke="#1c1c1c" stroke-width="0.96"/>
<polygon points="192.4,385.1 190.85,380.6 193.95,380.6" fill="#1c1c1c"/>
<polygon points="192.4,387.9 190.85,392.4 193.95,392.4" fill="#1c1c1c"/>
<text x="190.6" y="371.6" font-size="5.6" text-anchor="middle" fill="#333" font-weight="normal" transform="rotate(-90 190.6 371.6)">d</text>
<line x1="192.4" y1="385.1" x2="199" y2="385.1" stroke="#1c1c1c" stroke-width="0.84"/>
<line x1="192.4" y1="387.9" x2="199" y2="387.9" stroke="#1c1c1c" stroke-width="0.84"/>
<path d="M198.2,382.6 L200.2,381.6 L214.2,381.6 L214.2,391.2 Z M214.2,391.2 L198.2,391.2 L198.2,382.6" fill="none" stroke="#1c1c1c" stroke-width="0.96"/>
<rect x="199.2" y="382.2" width="14.5" height="2.2" fill="#aaa" stroke="#777" stroke-width="0.5"/>
<rect x="199.2" y="388.6" width="14.5" height="2.1" fill="#aaa" stroke="#777" stroke-width="0.5"/>
<line x1="200.2" y1="384.4" x2="202.2" y2="382.2" stroke="#1c1c1c" stroke-width="0.72"/>
<line x1="200.2" y1="390.7" x2="202.2" y2="388.6" stroke="#1c1c1c" stroke-width="0.72"/>
<line x1="203.2" y1="384.4" x2="205.2" y2="382.2" stroke="#1c1c1c" stroke-width="0.72"/>
<line x1="203.2" y1="390.7" x2="205.2" y2="388.6" stroke="#1c1c1c" stroke-width="0.72"/>
<line x1="206.2" y1="384.4" x2="208.2" y2="382.2" stroke="#1c1c1c" stroke-width="0.72"/>
<line x1="206.2" y1="390.7" x2="208.2" y2="388.6" stroke="#1c1c1c" stroke-width="0.72"/>
<line x1="209.2" y1="384.4" x2="211.2" y2="382.2" stroke="#1c1c1c" stroke-width="0.72"/>
<line x1="209.2" y1="390.7" x2="211.2" y2="388.6" stroke="#1c1c1c" stroke-width="0.72"/>
<line x1="212.2" y1="384.4" x2="214.2" y2="382.2" stroke="#1c1c1c" stroke-width="0.72"/>
<line x1="212.2" y1="390.7" x2="214.2" y2="388.6" stroke="#1c1c1c" stroke-width="0.72"/>
<path d="M198.2,385.1 L209.2,385.1 L211.7,386.5 L209.2,387.9 L198.2,387.9" fill="none" stroke="#1c1c1c" stroke-width="0.84"/>
<line x1="258.3" y1="386.5" x2="478" y2="386.5" stroke="#1c1c1c" stroke-width="0.82" stroke-dasharray="12 2.5 1 2.5"/>
<rect x="258.2" y="382" width="19.8" height="9" fill="none" stroke="#1c1c1c" stroke-width="0.96"/>
<rect x="262" y="380.5" width="12" height="1.5" fill="none" stroke="#1c1c1c" stroke-width="0.84"/>
<line x1="288.9" y1="345.4" x2="318.6" y2="345.4" stroke="#1c1c1c" stroke-width="1.08"/>
<line x1="299.5" y1="347.4" x2="318.6" y2="347.4" stroke="#1c1c1c" stroke-width="1.44"/>
<line x1="299.5" y1="345.4" x2="299.5" y2="423.5" stroke="#1c1c1c" stroke-width="1.08"/>
<line x1="364.3" y1="360.3" x2="364.3" y2="423.5" stroke="#1c1c1c" stroke-width="1.08"/>
<line x1="298" y1="345.4" x2="298" y2="423.5" stroke="#1c1c1c" stroke-width="0.84"/>
<line x1="362.6" y1="360.5" x2="362.6" y2="423.5" stroke="#1c1c1c" stroke-width="0.84"/>
<line x1="299.5" y1="360.7" x2="364.3" y2="360.7" stroke="#1c1c1c" stroke-width="1.56"/>
<line x1="299.5" y1="362.9" x2="364.3" y2="362.9" stroke="#1c1c1c" stroke-width="0.96"/>
<line x1="299.5" y1="366.9" x2="364.3" y2="366.9" stroke="#1c1c1c" stroke-width="0.96"/>
<line x1="299.5" y1="402.7" x2="364.3" y2="402.7" stroke="#1c1c1c" stroke-width="0.96"/>
<line x1="299.5" y1="405.7" x2="364.3" y2="405.7" stroke="#1c1c1c" stroke-width="0.96"/>
<line x1="299.5" y1="410.1" x2="364.3" y2="410.1" stroke="#1c1c1c" stroke-width="0.96"/>
<line x1="299.5" y1="369.1" x2="364.3" y2="369.1" stroke="#1c1c1c" stroke-width="1.32"/>
<line x1="299.5" y1="404.1" x2="364.3" y2="404.1" stroke="#1c1c1c" stroke-width="1.32"/>
<line x1="299.5" y1="371.9" x2="309.7" y2="371.9" stroke="#1c1c1c" stroke-width="0.84"/>
<line x1="351.8" y1="371.9" x2="364.3" y2="371.9" stroke="#1c1c1c" stroke-width="0.84"/>
<line x1="299.5" y1="373.3" x2="309.7" y2="373.3" stroke="#1c1c1c" stroke-width="0.84"/>
<line x1="351.8" y1="373.3" x2="364.3" y2="373.3" stroke="#1c1c1c" stroke-width="0.84"/>
<line x1="299.5" y1="399.9" x2="309.7" y2="399.9" stroke="#1c1c1c" stroke-width="0.84"/>
<line x1="351.8" y1="399.9" x2="364.3" y2="399.9" stroke="#1c1c1c" stroke-width="0.84"/>
<line x1="299.5" y1="401.1" x2="309.7" y2="401.1" stroke="#1c1c1c" stroke-width="0.84"/>
<line x1="351.8" y1="401.1" x2="364.3" y2="401.1" stroke="#1c1c1c" stroke-width="0.84"/>
<line x1="301.4" y1="360.7" x2="301.4" y2="378.5" stroke="#1c1c1c" stroke-width="0.84"/>
<line x1="301.4" y1="394.5" x2="301.4" y2="412.1" stroke="#1c1c1c" stroke-width="0.84"/>
<line x1="360.7" y1="360.7" x2="360.7" y2="378.5" stroke="#1c1c1c" stroke-width="0.84"/>
<line x1="360.7" y1="394.5" x2="360.7" y2="412.1" stroke="#1c1c1c" stroke-width="0.84"/>
<line x1="299.5" y1="412.1" x2="364.3" y2="412.1" stroke="#1c1c1c" stroke-width="1.44"/>
<rect x="309.7" y="374.2" width="42.1" height="24.9" fill="none" stroke="#1c1c1c" stroke-width="1.08" rx="1.5"/>
<polygon points="310.5,386.5 314,385.6 314,387.4" fill="#1c1c1c"/>
<polygon points="351,386.5 347.5,385.6 347.5,387.4" fill="#1c1c1c"/>
<rect x="298" y="380.9" width="9.8" height="11.2" fill="none" stroke="#1c1c1c" stroke-width="0.96"/>
<rect x="300" y="380.9" width="5.8" height="3.4" fill="#777" stroke="#1c1c1c" stroke-width="0.84"/>
<rect x="300" y="388.7" width="5.8" height="3.4" fill="#777" stroke="#1c1c1c" stroke-width="0.84"/>
<line x1="302.9" y1="379" x2="302.9" y2="394" stroke="#1c1c1c" stroke-width="0.72"/>
<rect x="299" y="378.9" width="7.8" height="15.2" fill="none" stroke="#1c1c1c" stroke-width="0.72"/>
<rect x="354.2" y="380.9" width="10.1" height="11.2" fill="none" stroke="#1c1c1c" stroke-width="0.96"/>
<rect x="356.2" y="380.9" width="6.1" height="3.4" fill="#777" stroke="#1c1c1c" stroke-width="0.84"/>
<rect x="356.2" y="388.7" width="6.1" height="3.4" fill="#777" stroke="#1c1c1c" stroke-width="0.84"/>
<line x1="359.1" y1="379" x2="359.1" y2="394" stroke="#1c1c1c" stroke-width="0.72"/>
<rect x="355.2" y="378.9" width="8.1" height="15.2" fill="none" stroke="#1c1c1c" stroke-width="0.72"/>
<rect x="289" y="383" width="9" height="7" fill="none" stroke="#1c1c1c" stroke-width="0.96"/>
<line x1="278" y1="382" x2="289" y2="382" stroke="#1c1c1c" stroke-width="0.84"/>
<line x1="278" y1="391" x2="289" y2="391" stroke="#1c1c1c" stroke-width="0.84"/>
<line x1="318.6" y1="320.9" x2="364.8" y2="320.9" stroke="#1c1c1c" stroke-width="0.84"/>
<rect x="318.6" y="321.9" width="46.2" height="2.1" fill="#444" stroke="#1c1c1c" stroke-width="0.72"/>
<line x1="318.6" y1="320.7" x2="318.6" y2="345.4" stroke="#1c1c1c" stroke-width="1.08"/>
<line x1="364.8" y1="320.7" x2="364.8" y2="360.5" stroke="#1c1c1c" stroke-width="1.08"/>
<line x1="362.9" y1="337" x2="362.9" y2="360.5" stroke="#1c1c1c" stroke-width="0.84"/>
<rect x="319.6" y="324.3" width="5.3" height="3.5" fill="none" stroke="#1c1c1c" stroke-width="0.72"/>
<rect x="358.1" y="324.3" width="5.3" height="3.5" fill="none" stroke="#1c1c1c" stroke-width="0.72"/>
<line x1="318.6" y1="337" x2="362.9" y2="337" stroke="#1c1c1c" stroke-width="1.08"/>
<line x1="319.8" y1="337" x2="319.8" y2="356.5" stroke="#1c1c1c" stroke-width="0.84"/>
<line x1="319.8" y1="356.5" x2="324.6" y2="360.3" stroke="#1c1c1c" stroke-width="0.84"/>
<polygon points="332,337.2 322.13,342.9 322.13,354.3 332,360 341.87,354.3 341.87,342.9" fill="#fff" stroke="#1c1c1c" stroke-width="0.9"/>
<circle cx="332" cy="348.6" r="9.3" fill="none" stroke="#1c1c1c" stroke-width="1.56"/>
<circle cx="332" cy="348.6" r="6.9" fill="none" stroke="#1c1c1c" stroke-width="1.68"/>
<circle cx="332" cy="348.6" r="4.3" fill="none" stroke="#1c1c1c" stroke-width="1.56"/>
<circle cx="351" cy="348.6" r="8.7" fill="#fff" stroke="#1c1c1c" stroke-width="1.08"/>
<circle cx="351" cy="348.6" r="7" fill="none" stroke="#1c1c1c" stroke-width="1.56"/>
<circle cx="351" cy="348.6" r="5.2" fill="none" stroke="#1c1c1c" stroke-width="1.08"/>
<circle cx="351" cy="348.6" r="2.7" fill="none" stroke="#1c1c1c" stroke-width="1.2"/>
<path d="M348.4,349.2 A2.7,2.7 0 0 0 353.6,349.2 Z" fill="#555" stroke="#1c1c1c" stroke-width="0.48"/>
<rect x="367.8" y="341.5" width="24.8" height="86.3" fill="none" stroke="#1c1c1c" stroke-width="1.08" rx="3.5"/>
<line x1="368.6" y1="344.5" x2="368.6" y2="425" stroke="#1c1c1c" stroke-width="1.44"/>
<line x1="365.8" y1="353.5" x2="365.8" y2="419.5" stroke="#1c1c1c" stroke-width="0.84"/>
<path d="M392.6,349.5 Q402,351.5 403,363.5" fill="none" stroke="#1c1c1c" stroke-width="0.96"/>
<path d="M392.6,423.5 Q402,421.5 403,409.5" fill="none" stroke="#1c1c1c" stroke-width="0.96"/>
<path d="M392.6,353.5 Q399,357.5 400.5,369.5" fill="none" stroke="#1c1c1c" stroke-width="0.84"/>
<path d="M392.6,419.5 Q399,415.5 400.5,403.5" fill="none" stroke="#1c1c1c" stroke-width="0.84"/>
<line x1="392.6" y1="366.9" x2="403" y2="366.9" stroke="#1c1c1c" stroke-width="0.96"/>
<line x1="392.6" y1="370.1" x2="403" y2="370.1" stroke="#1c1c1c" stroke-width="0.96"/>
<line x1="392.6" y1="399.3" x2="403" y2="399.3" stroke="#1c1c1c" stroke-width="0.96"/>
<line x1="392.6" y1="403.2" x2="403" y2="403.2" stroke="#1c1c1c" stroke-width="0.96"/>
<line x1="392.6" y1="349.2" x2="403" y2="349.2" stroke="#1c1c1c" stroke-width="1.56"/>
<line x1="392.6" y1="423.1" x2="403" y2="423.1" stroke="#1c1c1c" stroke-width="1.56"/>
<path d="M392.6,373.5 Q400,379.5 400,386.5" fill="none" stroke="#1c1c1c" stroke-width="0.84"/>
<path d="M392.6,399.5 Q400,393.5 400,386.5" fill="none" stroke="#1c1c1c" stroke-width="0.84"/>
<path d="M403,343.9 L453.7,343.9 L462.4,355.9 L462.4,417.3 L453.7,429.3 L403,429.3 Z" fill="none" stroke="#1c1c1c" stroke-width="1.08"/>
<line x1="408.4" y1="343.9" x2="408.4" y2="429.3" stroke="#1c1c1c" stroke-width="0.96"/>
<line x1="411" y1="343.9" x2="411" y2="429.3" stroke="#1c1c1c" stroke-width="0.96"/>
<line x1="453.7" y1="343.9" x2="453.7" y2="429.3" stroke="#1c1c1c" stroke-width="0.96"/>
<rect x="462.4" y="375.5" width="5.4" height="20.5" fill="none" stroke="#1c1c1c" stroke-width="0.96"/>
<line x1="462.4" y1="380.5" x2="467.8" y2="380.5" stroke="#1c1c1c" stroke-width="0.84"/>
<line x1="462.4" y1="385.5" x2="467.8" y2="385.5" stroke="#1c1c1c" stroke-width="0.84"/>
<line x1="462.4" y1="390.5" x2="467.8" y2="390.5" stroke="#1c1c1c" stroke-width="0.84"/>
<line x1="403" y1="343.9" x2="481" y2="343.9" stroke="#1c1c1c" stroke-width="0.96"/>
<line x1="453.7" y1="429.3" x2="481" y2="429.3" stroke="#1c1c1c" stroke-width="0.96"/>
<line x1="479.2" y1="343.9" x2="479.2" y2="429.3" stroke="#1c1c1c" stroke-width="0.96"/>
<polygon points="479.2,343.9 477.65,350.3 480.75,350.3" fill="#1c1c1c"/>
<polygon points="479.2,429.3 477.65,422.9 480.75,422.9" fill="#1c1c1c"/>
<text x="474.4" y="386.5" font-size="6.3" text-anchor="middle" fill="#333" font-weight="normal" transform="rotate(-90 474.4 386.5)">Y</text>
<line x1="258.3" y1="289" x2="258.3" y2="391.5" stroke="#1c1c1c" stroke-width="0.96"/>
<line x1="467.4" y1="289" x2="467.4" y2="375.5" stroke="#1c1c1c" stroke-width="0.96"/>
<line x1="258.3" y1="290.5" x2="467.4" y2="290.5" stroke="#1c1c1c" stroke-width="0.96"/>
<polygon points="258.3,290.5 264.7,288.95 264.7,292.05" fill="#1c1c1c"/>
<polygon points="467.4,290.5 461,288.95 461,292.05" fill="#1c1c1c"/>
<text x="370" y="288.9" font-size="6.3" text-anchor="middle" fill="#333" font-weight="normal">Q</text>
<line x1="276.5" y1="301.9" x2="276.5" y2="391.5" stroke="#1c1c1c" stroke-width="0.96"/>
<line x1="364.3" y1="301.9" x2="364.3" y2="320.5" stroke="#1c1c1c" stroke-width="0.96"/>
<line x1="276.5" y1="303.4" x2="364.3" y2="303.4" stroke="#1c1c1c" stroke-width="0.96"/>
<polygon points="276.5,303.4 282.9,301.85 282.9,304.95" fill="#1c1c1c"/>
<polygon points="364.3,303.4 357.9,301.85 357.9,304.95" fill="#1c1c1c"/>
<text x="321" y="301.8" font-size="6.3" text-anchor="middle" fill="#333" font-weight="normal">L</text>
<line x1="318.7" y1="312.7" x2="318.7" y2="320.5" stroke="#1c1c1c" stroke-width="0.96"/>
<line x1="318.7" y1="314.2" x2="364.3" y2="314.2" stroke="#1c1c1c" stroke-width="0.96"/>
<polygon points="318.7,314.2 325.1,312.65 325.1,315.75" fill="#1c1c1c"/>
<polygon points="364.3,314.2 357.9,312.65 357.9,315.75" fill="#1c1c1c"/>
<text x="342.6" y="312.6" font-size="6.3" text-anchor="middle" fill="#333" font-weight="normal">R</text>
<line x1="258.3" y1="324.3" x2="276.5" y2="324.3" stroke="#1c1c1c" stroke-width="0.96"/>
<polygon points="258.3,324.3 264.7,322.75 264.7,325.85" fill="#1c1c1c"/>
<polygon points="276.5,324.3 270.1,322.75 270.1,325.85" fill="#1c1c1c"/>
<text x="267.4" y="322.5" font-size="6.3" text-anchor="middle" fill="#333" font-weight="normal">E</text>
<line x1="250" y1="382" x2="258.3" y2="382" stroke="#1c1c1c" stroke-width="0.84"/>
<line x1="250" y1="391" x2="258.3" y2="391" stroke="#1c1c1c" stroke-width="0.84"/>
<line x1="251.5" y1="373" x2="251.5" y2="400" stroke="#1c1c1c" stroke-width="0.96"/>
<polygon points="251.5,382 249.95,375.6 253.05,375.6" fill="#1c1c1c"/>
<polygon points="251.5,391 249.95,397.4 253.05,397.4" fill="#1c1c1c"/>
<text x="249.4" y="386.5" font-size="5.8" text-anchor="middle" fill="#333" font-weight="normal" transform="rotate(-90 249.4 386.5)">D</text>
<rect x="274.4" y="338.7" width="8.3" height="95.3" fill="none" stroke="#1c1c1c" stroke-width="1.08"/>
<line x1="277" y1="338.7" x2="277" y2="446" stroke="#1c1c1c" stroke-width="0.84"/>
<line x1="274.4" y1="434" x2="274.4" y2="446" stroke="#1c1c1c" stroke-width="0.84"/>
<path d="M282.7,349.5 L288.7,349.5 L288.7,427.5 L282.7,427.5" fill="none" stroke="#1c1c1c" stroke-width="0.96"/>
<line x1="291.3" y1="345.4" x2="291.3" y2="427.5" stroke="#1c1c1c" stroke-width="0.84"/>
<line x1="293.9" y1="345.4" x2="293.9" y2="427.5" stroke="#1c1c1c" stroke-width="0.84"/>
<line x1="296.5" y1="345.4" x2="296.5" y2="427.5" stroke="#1c1c1c" stroke-width="0.84"/>
<rect x="288.7" y="345.4" width="7.8" height="5.7" fill="none" stroke="#1c1c1c" stroke-width="0.96"/>
<rect x="288.7" y="421.1" width="7.8" height="6.4" fill="none" stroke="#1c1c1c" stroke-width="0.96"/>
<line x1="282.7" y1="345.4" x2="299.5" y2="345.4" stroke="#1c1c1c" stroke-width="0.96"/>
<path d="M298,412.1 L300.5,426.5 L362,426.5 L364.3,412.1" fill="none" stroke="#1c1c1c" stroke-width="1.08"/>
<line x1="299" y1="423.8" x2="363.5" y2="423.8" stroke="#1c1c1c" stroke-width="0.84"/>
<line x1="227" y1="338.7" x2="283" y2="338.7" stroke="#1c1c1c" stroke-width="0.96"/>
<line x1="227" y1="434" x2="283" y2="434" stroke="#1c1c1c" stroke-width="0.96"/>
<line x1="228.5" y1="338.7" x2="228.5" y2="434" stroke="#1c1c1c" stroke-width="0.96"/>
<polygon points="228.5,338.7 226.95,345.1 230.05,345.1" fill="#1c1c1c"/>
<polygon points="228.5,434 226.95,427.6 230.05,427.6" fill="#1c1c1c"/>
<text x="226" y="386.5" font-size="6.3" text-anchor="middle" fill="#333" font-weight="normal" transform="rotate(-90 226 386.5)">P</text>
<line x1="237.5" y1="353.3" x2="274.4" y2="353.3" stroke="#1c1c1c" stroke-width="0.96"/>
<line x1="237.5" y1="419.5" x2="274.4" y2="419.5" stroke="#1c1c1c" stroke-width="0.96"/>
<line x1="238.9" y1="353.3" x2="238.9" y2="419.5" stroke="#1c1c1c" stroke-width="0.96"/>
<polygon points="238.9,353.3 237.35,359.7 240.45,359.7" fill="#1c1c1c"/>
<polygon points="238.9,419.5 237.35,413.1 240.45,413.1" fill="#1c1c1c"/>
<text x="236.4" y="386.5" font-size="6.3" text-anchor="middle" fill="#333" font-weight="normal" transform="rotate(-90 236.4 386.5)">N</text>
<line x1="260" y1="444.6" x2="274.4" y2="444.6" stroke="#1c1c1c" stroke-width="0.96"/>
<line x1="277" y1="444.6" x2="284" y2="444.6" stroke="#1c1c1c" stroke-width="0.96"/>
<polygon points="274.4,444.6 269.9,443.05 269.9,446.15" fill="#1c1c1c"/>
<polygon points="277,444.6 281.5,443.05 281.5,446.15" fill="#1c1c1c"/>
<text x="262.3" y="442.8" font-size="6.3" text-anchor="middle" fill="#333" font-weight="normal">X</text>
<line x1="497" y1="386.4" x2="602" y2="386.4" stroke="#1c1c1c" stroke-width="0.84" stroke-dasharray="10 2 1.5 2"/>
<line x1="547.2" y1="318" x2="547.2" y2="436" stroke="#1c1c1c" stroke-width="0.84" stroke-dasharray="10 2 1.5 2"/>
<circle cx="547.2" cy="386.4" r="48" fill="none" stroke="#1c1c1c" stroke-width="1.2"/>
<circle cx="547.2" cy="386.4" r="39" fill="none" stroke="#1c1c1c" stroke-width="0.84" stroke-dasharray="8 2 2 2"/>
<circle cx="547.2" cy="386.4" r="33" fill="none" stroke="#1c1c1c" stroke-width="1.2"/>
<circle cx="547.2" cy="386.4" r="31" fill="none" stroke="#1c1c1c" stroke-width="1.32"/>
<circle cx="547.2" cy="386.4" r="28.5" fill="none" stroke="#1c1c1c" stroke-width="0.72"/>
<circle cx="547.2" cy="386.4" r="11.3" fill="none" stroke="#1c1c1c" stroke-width="1.08"/>
<circle cx="547.2" cy="386.4" r="9.8" fill="none" stroke="#1c1c1c" stroke-width="0.84"/>
<circle cx="547.2" cy="386.4" r="5.2" fill="none" stroke="#1c1c1c" stroke-width="1.2"/>
<circle cx="547.2" cy="386.4" r="2.6" fill="none" stroke="#1c1c1c" stroke-width="0.96"/>
<line x1="521.2" y1="386.4" x2="535.7" y2="386.4" stroke="#1c1c1c" stroke-width="1.56"/>
<line x1="558.7" y1="386.4" x2="573.2" y2="386.4" stroke="#1c1c1c" stroke-width="1.56"/>
<line x1="547.2" y1="360.4" x2="547.2" y2="374.9" stroke="#1c1c1c" stroke-width="1.56"/>
<line x1="547.2" y1="397.9" x2="547.2" y2="412.4" stroke="#1c1c1c" stroke-width="1.56"/>
<circle cx="574.78" cy="358.82" r="2.4" fill="#fff" stroke="#1c1c1c" stroke-width="1.08"/>
<line x1="573.28" y1="360.32" x2="576.28" y2="357.32" stroke="#1c1c1c" stroke-width="0.6"/>
<circle cx="519.62" cy="358.82" r="2.4" fill="#fff" stroke="#1c1c1c" stroke-width="1.08"/>
<line x1="518.12" y1="360.32" x2="521.12" y2="357.32" stroke="#1c1c1c" stroke-width="0.6"/>
<circle cx="519.62" cy="413.98" r="2.4" fill="#fff" stroke="#1c1c1c" stroke-width="1.08"/>
<line x1="518.12" y1="415.48" x2="521.12" y2="412.48" stroke="#1c1c1c" stroke-width="0.6"/>
<circle cx="574.78" cy="413.98" r="2.4" fill="#fff" stroke="#1c1c1c" stroke-width="1.08"/>
<line x1="573.28" y1="415.48" x2="576.28" y2="412.48" stroke="#1c1c1c" stroke-width="0.6"/>
<path d="M524,336.4 L524,324 L532,324 Q536,321.2 540,321.2 L554.7,321.2 Q558.7,321.2 562.7,324 L570.7,324 L570.7,336.4 Z" fill="none" stroke="#1c1c1c" stroke-width="1.08"/>
<rect x="525.5" y="324.2" width="5" height="2.8" fill="none" stroke="#1c1c1c" stroke-width="0.72"/>
<rect x="564.2" y="324.2" width="5" height="2.8" fill="none" stroke="#1c1c1c" stroke-width="0.72"/>
<line x1="524" y1="336.4" x2="524" y2="344.5" stroke="#1c1c1c" stroke-width="0.96"/>
<line x1="570.7" y1="336.4" x2="570.7" y2="344.5" stroke="#1c1c1c" stroke-width="0.96"/>
<rect x="572" y="341.5" width="13.4" height="11.5" fill="#fff" stroke="#1c1c1c" stroke-width="1.08" rx="1"/>
<rect x="574" y="339.5" width="9" height="15" fill="#fff" stroke="#1c1c1c" stroke-width="1.08" rx="1"/>
<line x1="576.5" y1="339.5" x2="576.5" y2="354.5" stroke="#1c1c1c" stroke-width="0.72"/>
<line x1="579.5" y1="339.5" x2="579.5" y2="354.5" stroke="#1c1c1c" stroke-width="0.72"/>
<line x1="582" y1="339.5" x2="582" y2="354.5" stroke="#1c1c1c" stroke-width="0.72"/>
<line x1="542" y1="321.2" x2="601.5" y2="321.2" stroke="#1c1c1c" stroke-width="0.96"/>
<line x1="524" y1="299.6" x2="524" y2="324" stroke="#1c1c1c" stroke-width="0.96"/>
<line x1="570.7" y1="299.6" x2="570.7" y2="324" stroke="#1c1c1c" stroke-width="0.96"/>
<line x1="524" y1="301.2" x2="570.7" y2="301.2" stroke="#1c1c1c" stroke-width="0.96"/>
<polygon points="524,301.2 530.4,299.65 530.4,302.75" fill="#1c1c1c"/>
<polygon points="570.7,301.2 564.3,299.65 564.3,302.75" fill="#1c1c1c"/>
<text x="547.3" y="299.2" font-size="6.3" text-anchor="middle" fill="#333" font-weight="normal">Z</text>
<line x1="600" y1="321.2" x2="600" y2="386.4" stroke="#1c1c1c" stroke-width="0.96"/>
<polygon points="600,321.2 598.45,327.6 601.55,327.6" fill="#1c1c1c"/>
<polygon points="600,386.4 598.45,380 601.55,380" fill="#1c1c1c"/>
<text x="597.8" y="352" font-size="6.3" text-anchor="middle" fill="#333" font-weight="normal" transform="rotate(-90 597.8 352)">W</text>
<line x1="574.78" y1="411.4" x2="601.5" y2="411.4" stroke="#1c1c1c" stroke-width="0.96"/>
<line x1="574.78" y1="417.2" x2="601.5" y2="417.2" stroke="#1c1c1c" stroke-width="0.96"/>
<line x1="600" y1="402" x2="600" y2="432" stroke="#1c1c1c" stroke-width="0.96"/>
<polygon points="600,411.4 598.45,406.9 601.55,406.9" fill="#1c1c1c"/>
<polygon points="600,417.2 598.45,421.7 601.55,421.7" fill="#1c1c1c"/>
<text x="597.6" y="430" font-size="6.3" text-anchor="middle" fill="#333" font-weight="normal" transform="rotate(-90 597.6 430)">S</text>
<line x1="507.7" y1="386.4" x2="507.7" y2="449" stroke="#1c1c1c" stroke-width="0.96"/>
<line x1="586.8" y1="386.4" x2="586.8" y2="449" stroke="#1c1c1c" stroke-width="0.96"/>
<line x1="507.7" y1="447" x2="586.8" y2="447" stroke="#1c1c1c" stroke-width="0.96"/>
<polygon points="507.7,447 514.1,445.45 514.1,448.55" fill="#1c1c1c"/>
<polygon points="586.8,447 580.4,445.45 580.4,448.55" fill="#1c1c1c"/>
<text x="547.3" y="445.2" font-size="6.3" text-anchor="middle" fill="#333" font-weight="normal">N</text>
</g>
</svg></body></html>
